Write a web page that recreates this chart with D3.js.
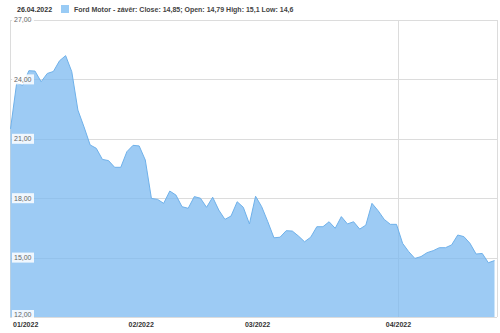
<!DOCTYPE html>
<html>
<head>
<meta charset="utf-8">
<script src="https://cdn.jsdelivr.net/npm/d3@7"></script>
<style>
  body { margin: 0; background: #fff; }
  svg { display: block; font-family: "Liberation Sans", Arial, sans-serif; }
</style>
</head>
<body>
<div id="chart"></div>
<script>
// Ford Motor daily close, Jan - Apr 2022
var closes = [21.5, 23.8, 23.7, 24.44, 24.42, 23.88, 24.3, 24.4, 24.94, 25.2,
	24.39, 22.45, 21.6, 20.69, 20.52, 19.96, 19.9, 19.56, 19.56, 20.35,
	20.67, 20.64, 19.93, 17.99, 17.94, 17.74, 18.36, 18.16, 17.57, 17.49,
	18.08, 18.0, 17.54, 18.05, 17.4, 16.93, 17.1, 17.82, 17.54, 16.7,
	18.1, 17.57, 16.81, 16.0, 16.03, 16.36, 16.34, 16.09, 15.8, 16.03,
	16.56, 16.56, 16.81, 16.48, 17.07, 16.7, 16.81, 16.44, 16.64, 17.74,
	17.37, 16.93, 16.68, 16.68, 15.72, 15.3, 14.96, 15.05, 15.25, 15.35,
	15.5, 15.5, 15.64, 16.14, 16.06, 15.72, 15.18, 15.21, 14.74, 14.85];

var monthIdx = [0, 21, 40, 63];          // first trading day of each month
var monthLabels = ["01/2022", "02/2022", "03/2022", "04/2022"];
var gridMonths = [0, 63];                // vertical grid only at quarter starts
var yTicks = [12, 15, 18, 21, 24, 27];

var dateLabel = "26.04.2022";
var legendText = "Ford Motor - závěr: Close: 14,85; Open: 14,79 High: 15,1 Low: 14,6";

var W = 500, H = 333;
var plotL = 10, plotR = 497, plotT = 20, plotB = 317;

var svg = d3.select("#chart").append("svg")
	.attr("width", W)
	.attr("height", H);

var x = d3.scaleLinear()
	.domain([0, closes.length - 1])
	.range([plotL + 0.5, 494.5]);

var y = d3.scaleLinear()
	.domain([12, 27])
	.range([plotB, plotT]);

var fmt = function (v) { return d3.format(".2f")(v).replace(".", ","); };

// horizontal grid
svg.append("g")
	.selectAll("line")
	.data(yTicks)
	.join("line")
	.attr("x1", plotL).attr("x2", plotR)
	.attr("y1", function (d) { return Math.round(y(d)) + 0.5; })
	.attr("y2", function (d) { return Math.round(y(d)) + 0.5; })
	.attr("stroke", "#dcdcdc");

// vertical grid + frame
svg.append("g")
	.selectAll("line")
	.data(gridMonths)
	.join("line")
	.attr("x1", function (d) { return Math.round(d == 0 ? plotL : x(d) + 2) + 0.5; })
	.attr("x2", function (d) { return Math.round(d == 0 ? plotL : x(d) + 2) + 0.5; })
	.attr("y1", plotT).attr("y2", plotB)
	.attr("stroke", "#dcdcdc");

svg.append("line")
	.attr("x1", plotR + 0.5).attr("x2", plotR + 0.5)
	.attr("y1", plotT).attr("y2", plotB)
	.attr("stroke", "#dcdcdc");

// area + line
svg.append("path")
	.datum(closes)
	.attr("fill", "rgb(124,185,240)")
	.attr("fill-opacity", 0.75)
	.attr("d", d3.area()
		.x(function (d, i) { return x(i); })
		.y0(plotB)
		.y1(function (d) { return y(d); })
	);

svg.append("path")
	.datum(closes)
	.attr("fill", "none")
	.attr("stroke", "#6fb1ea")
	.attr("stroke-width", 1)
	.attr("d", d3.line()
		.x(function (d, i) { return x(i); })
		.y(function (d) { return y(d); })
	);

// y labels with white boxes
var yl = svg.append("g")
	.selectAll("g")
	.data(yTicks)
	.join("g")
	.attr("transform", function (d) {
		var yy = y(d);
		if (d == 12) yy = yy - 2;
		return "translate(" + (plotL + 3) + "," + yy + ")";
	});

yl.append("rect")
	.attr("x", -1).attr("y", -5)
	.attr("width", 22).attr("height", 10)
	.attr("fill", "#fff")
	.attr("fill-opacity", 0.85);

yl.append("text")
	.attr("x", 1)
	.attr("dy", "0.35em")
	.attr("font-size", 7)
	.attr("fill", "#666")
	.text(fmt);

// x labels
svg.append("g")
	.selectAll("text")
	.data(monthIdx)
	.join("text")
	.attr("x", function (d, i) { return i == 0 ? plotL + 3 : x(d) + 2; })
	.attr("y", 327)
	.attr("text-anchor", function (d, i) { return i == 0 ? "start" : "middle"; })
	.attr("font-size", 7)
	.attr("font-weight", "bold")
	.attr("fill", "#333")
	.text(function (d, i) { return monthLabels[i]; });

// header: date + legend
svg.append("text")
	.attr("x", 17).attr("y", 12)
	.attr("font-size", 7)
	.attr("font-weight", "bold")
	.attr("fill", "#333")
	.text(dateLabel);

svg.append("rect")
	.attr("x", 61).attr("y", 5)
	.attr("width", 8).attr("height", 8)
	.attr("fill", "#99cbf5");

svg.append("text")
	.attr("x", 74).attr("y", 12)
	.attr("font-size", 7)
	.attr("font-weight", "bold")
	.attr("fill", "#444")
	.text(legendText);
</script>
</body>
</html>
